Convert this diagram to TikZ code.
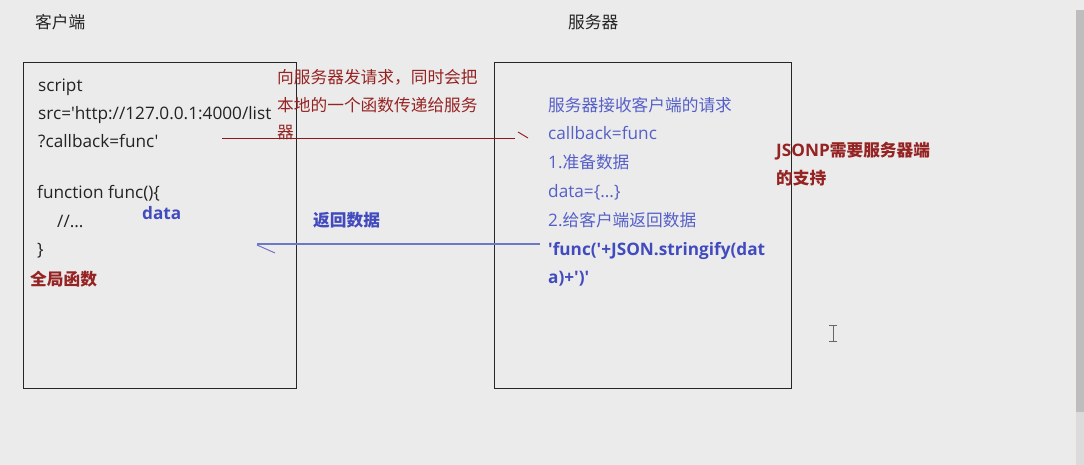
\documentclass[tikz,border=0pt]{standalone}
\usepackage{fontspec}
\setmainfont{Open Sans}[Ligatures=TeXOff]
\newfontfamily\cjk{Noto Sans CJK SC}
\newcommand\zh[1]{{\cjk\fontsize{16.7}{20}\selectfont #1}}
\definecolor{bg}{RGB}{235,235,235}
\definecolor{dred}{RGB}{150,35,35}
\definecolor{lred}{RGB}{140,25,25}
\definecolor{lblue}{RGB}{85,95,200}
\definecolor{dblue}{RGB}{65,75,190}
\definecolor{lineblue}{RGB}{110,120,200}
\definecolor{txtgray}{RGB}{35,35,35}
\begin{document}
\begin{tikzpicture}[x=1pt,y=-1pt,
  txt/.style={anchor=base west,inner sep=0pt,font=\fontsize{17.2}{20}\selectfont,text=txtgray},
  rtxt/.style={txt,text=dred},
  btxt/.style={txt,text=lblue},
  boldblue/.style={txt,text=dblue,font=\fontsize{17.2}{20}\selectfont\bfseries},
  boldred/.style={txt,text=dred,font=\fontsize{17.2}{20}\selectfont\bfseries},
  panel/.style={draw=black!85,line width=1pt},
]
\useasboundingbox (0,0) rectangle (1084,465);
\fill[bg] (0,0) rectangle (1084,465);
% scrollbar
\fill[black!14] (1076,10) rectangle (1084,465);
\fill[black!26] (1076,10) rectangle (1084,412);
% headings
\node[txt] (hc) at (35,29) {\zh{客户端}};
\node[txt] (hs) at (568,29) {\zh{服务器}};
% boxes
\draw[panel] (23,63) rectangle (296,388);
\draw[panel] (494,63) rectangle (791,388);
% client code
\node[txt] (l1) at (38,92) {script};
\node[txt] (l2) at (38,120) {src='http://127.0.0.1:4000/list};
\node[txt] (l3) at (38,148) {?callback=func'};
\node[txt] (l4) at (37,199) {function func()\{};
\node[txt] (l5) at (57,228) {//...};
\node[txt] (l6) at (37,255) {\}};
\node[boldblue] (data) at (142,219) {data};
\node[boldred] (glob) at (30,285) {\zh{全局函数}};
% request note
\node[rtxt] (r1) at (277,84) {\zh{向服务器发请求，同时会把}};
\node[rtxt] (r2) at (277,112) {\zh{本地的一个函数传递给服务}};
\node[rtxt] (r3) at (277,139) {\zh{器}};
% server text
\node[btxt] (s1) at (548,112) {\zh{服务器接收客户端的请求}};
\node[btxt] (s2) at (548,140) {callback=func};
\node[btxt] (s3) at (548,169) {1.\zh{准备数据}};
\node[btxt] (s4) at (548,197) {data=\{...\}};
\node[btxt] (s5) at (548,226) {2.\zh{给客户端返回数据}};
\node[boldblue] (s6) at (548,255) {'func('+JSON.stringify(dat};
\node[boldblue] (s7) at (548,283) {a)+')'};
\node[boldblue] (ret) at (313,226) {\zh{返回数据}};
% JSONP note
\node[boldred] (j1) at (776,157) {JSONP\zh{需要服务器端}};
\node[boldred] (j2) at (776,185) {\zh{的支持}};
% connectors
\coordinate (reqS) at (222,139);
\coordinate (reqE) at (515,139);
\draw[lred,line width=1pt] (reqS) -- (reqE);
\draw[lred,line width=0.9pt] (518,132) -- (528,138);
\coordinate (retS) at (540,244);
\coordinate (retE) at (257,244);
\draw[lineblue,line width=1.1pt] (retS) -- (retE);
\draw[lineblue,line width=1pt] (retE) ++(0,1) -- (275,253);
% cursor
\draw[black!60,line width=1pt] (833,325) -- (833,341) (829,325) -- (837,325) (829,341) -- (837,341);
\end{tikzpicture}
\end{document}
